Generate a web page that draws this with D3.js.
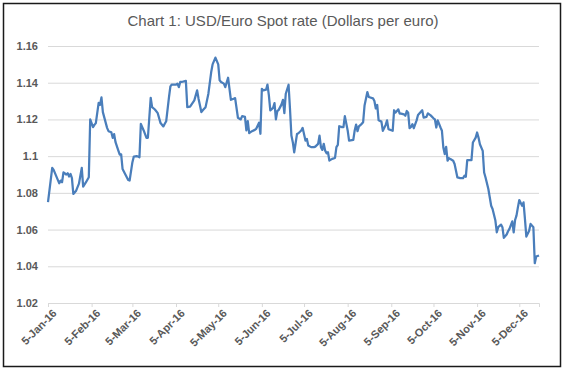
<!DOCTYPE html>
<html lang="en">
<head>
<meta charset="utf-8">
<title>USD/Euro Spot rate</title>
<script src="https://cdn.jsdelivr.net/npm/d3@7"></script>
<style>
body { margin: 0; background: #fff; }
text { font-family: "Liberation Sans", Arial, sans-serif; fill: #595959; }
</style>
</head>
<body>
<script>
// daily points
var dates = ["5-Jan-16","8-Jan-16","9-Jan-16","13-Jan-16","14-Jan-16","15-Jan-16","16-Jan-16","18-Jan-16","19-Jan-16","20-Jan-16",
  "21-Jan-16","22-Jan-16","23-Jan-16","25-Jan-16","27-Jan-16","29-Jan-16","30-Jan-16","1-Feb-16","3-Feb-16","4-Feb-16",
  "6-Feb-16","7-Feb-16","8-Feb-16","10-Feb-16","11-Feb-16","12-Feb-16","13-Feb-16","16-Feb-16","17-Feb-16","19-Feb-16",
  "20-Feb-16","21-Feb-16","22-Feb-16","24-Feb-16","25-Feb-16","26-Feb-16","27-Feb-16","29-Feb-16","2-Mar-16","3-Mar-16",
  "5-Mar-16","6-Mar-16","8-Mar-16","9-Mar-16","10-Mar-16","11-Mar-16","13-Mar-16","15-Mar-16","16-Mar-16","18-Mar-16",
  "19-Mar-16","21-Mar-16","23-Mar-16","25-Mar-16","27-Mar-16","28-Mar-16","29-Mar-16","31-Mar-16","1-Apr-16","2-Apr-16",
  "5-Apr-16","6-Apr-16","7-Apr-16","8-Apr-16","9-Apr-16","12-Apr-16","13-Apr-16","15-Apr-16","18-Apr-16","20-Apr-16",
  "21-Apr-16","23-Apr-16","24-Apr-16","26-Apr-16","28-Apr-16","30-Apr-16","1-May-16","3-May-16","5-May-16","6-May-16",
  "7-May-16","9-May-16","10-May-16","12-May-16","13-May-16","14-May-16","16-May-16","17-May-16","19-May-16","21-May-16",
  "22-May-16","24-May-16","25-May-16","26-May-16","27-May-16","29-May-16","31-May-16","1-Jun-16","3-Jun-16","4-Jun-16",
  "5-Jun-16","6-Jun-16","8-Jun-16","9-Jun-16","10-Jun-16","11-Jun-16","13-Jun-16","14-Jun-16","15-Jun-16","16-Jun-16",
  "17-Jun-16","19-Jun-16","20-Jun-16","21-Jun-16","22-Jun-16","24-Jun-16","25-Jun-16","26-Jun-16","27-Jun-16","28-Jun-16",
  "29-Jun-16","30-Jun-16","1-Jul-16","3-Jul-16","4-Jul-16","6-Jul-16","7-Jul-16","8-Jul-16","10-Jul-16","12-Jul-16",
  "13-Jul-16","15-Jul-16","16-Jul-16","17-Jul-16","18-Jul-16","19-Jul-16","20-Jul-16","21-Jul-16","22-Jul-16","23-Jul-16",
  "25-Jul-16","27-Jul-16","28-Jul-16","29-Jul-16","30-Jul-16","1-Aug-16","2-Aug-16","3-Aug-16","5-Aug-16","6-Aug-16",
  "9-Aug-16","10-Aug-16","11-Aug-16","12-Aug-16","13-Aug-16","15-Aug-16","16-Aug-16","17-Aug-16","19-Aug-16","20-Aug-16",
  "23-Aug-16","24-Aug-16","25-Aug-16","26-Aug-16","27-Aug-16","29-Aug-16","30-Aug-16","1-Sep-16","2-Sep-16","3-Sep-16",
  "5-Sep-16","6-Sep-16","7-Sep-16","8-Sep-16","10-Sep-16","11-Sep-16","12-Sep-16","14-Sep-16","15-Sep-16","16-Sep-16",
  "17-Sep-16","18-Sep-16","19-Sep-16","20-Sep-16","21-Sep-16","23-Sep-16","24-Sep-16","27-Sep-16","28-Sep-16","30-Sep-16",
  "1-Oct-16","3-Oct-16","5-Oct-16","6-Oct-16","7-Oct-16","8-Oct-16","10-Oct-16","11-Oct-16","12-Oct-16","13-Oct-16",
  "14-Oct-16","15-Oct-16","16-Oct-16","17-Oct-16","19-Oct-16","20-Oct-16","22-Oct-16","24-Oct-16","26-Oct-16","27-Oct-16",
  "28-Oct-16","29-Oct-16","30-Oct-16","1-Nov-16","2-Nov-16","4-Nov-16","5-Nov-16","6-Nov-16","7-Nov-16","9-Nov-16",
  "10-Nov-16","11-Nov-16","13-Nov-16","15-Nov-16","16-Nov-16","18-Nov-16","19-Nov-16","20-Nov-16","22-Nov-16","23-Nov-16",
  "24-Nov-16","26-Nov-16","27-Nov-16","28-Nov-16","30-Nov-16","1-Dec-16","2-Dec-16","3-Dec-16","4-Dec-16","5-Dec-16",
  "7-Dec-16","8-Dec-16","9-Dec-16","10-Dec-16","12-Dec-16","13-Dec-16","15-Dec-16","16-Dec-16","17-Dec-16","19-Dec-16"];

var rates = [1.075,1.0936,1.0925,1.0852,1.0867,1.0858,1.0912,1.090,1.0907,1.0889,
  1.0903,1.088,1.0794,1.0812,1.085,1.0936,1.0834,1.0858,1.0885,1.120,
  1.1158,1.117,1.118,1.129,1.128,1.132,1.124,1.1154,1.1136,1.113,
  1.110,1.112,1.1076,1.103,1.1008,1.101,1.093,1.090,1.087,1.0867,
  1.0967,1.0998,1.100,1.0998,1.0994,1.1176,1.114,1.110,1.110,1.1318,
  1.1267,1.1254,1.1234,1.118,1.1162,1.1176,1.119,1.1322,1.138,1.139,
  1.1389,1.1395,1.1376,1.1404,1.1404,1.141,1.1267,1.127,1.1304,1.1358,
  1.1313,1.124,1.125,1.1267,1.134,1.1458,1.150,1.1537,1.150,1.1413,
  1.1404,1.1395,1.1376,1.1427,1.1367,1.1307,1.1313,1.1316,1.1209,1.120,
  1.1218,1.1214,1.114,1.1191,1.1125,1.1136,1.1143,1.1149,1.1182,1.1122,
  1.1367,1.1358,1.1362,1.139,1.1331,1.1249,1.1263,1.1289,1.120,1.1245,
  1.1252,1.1282,1.1307,1.1234,1.134,1.1389,1.1258,1.1112,1.1076,1.1021,
  1.107,1.1121,1.1125,1.114,1.1154,1.1085,1.1094,1.1058,1.1049,1.1049,
  1.1052,1.1067,1.1112,1.1049,1.1034,1.1067,1.103,1.1016,1.1021,1.0976,
  1.0985,1.099,1.1049,1.1061,1.1163,1.1158,1.1158,1.1218,1.114,1.1085,
  1.1089,1.114,1.1172,1.1136,1.1162,1.1176,1.1185,1.1276,1.1349,1.1322,
  1.1315,1.130,1.126,1.1279,1.1195,1.1188,1.1138,1.117,1.1195,1.1147,
  1.1141,1.1138,1.125,1.1237,1.1255,1.1232,1.1232,1.1228,1.122,1.1246,
  1.1237,1.1152,1.1159,1.1174,1.1152,1.1195,1.1224,1.125,1.121,1.1214,
  1.1233,1.1222,1.1206,1.12,1.1156,1.1195,1.1156,1.1138,1.1047,1.1011,
  1.1051,1.0975,1.0989,1.0984,1.0975,1.0957,1.0884,1.088,1.088,1.0893,
  1.0888,1.0978,1.0978,1.0978,1.1074,1.1101,1.1129,1.1101,1.1065,1.1029,
  1.0911,1.0884,1.0821,1.073,1.0712,1.0649,1.0585,1.0613,1.0627,1.0613,
  1.0555,1.0573,1.0591,1.0604,1.0645,1.0585,1.0652,1.0676,1.0721,1.0761,
  1.073,1.0748,1.0658,1.0562,1.0594,1.0631,1.0613,1.0417,1.0453,1.0459];

var xTickLabels = ["5-Jan-16","5-Feb-16","5-Mar-16","5-Apr-16","5-May-16","5-Jun-16",
  "5-Jul-16","5-Aug-16","5-Sep-16","5-Oct-16","5-Nov-16","5-Dec-16"];
var yTicks = [1.02, 1.04, 1.06, 1.08, 1.1, 1.12, 1.14, 1.16];

var w = 564, h = 373;
var plotLeft = 48, plotRight = 539, plotTop = 46, plotBottom = 303;

var parse = d3.timeParse("%d-%b-%y");
var data = dates.map(function(d, i) { return { date: parse(d), rate: rates[i] }; });

var svg = d3.select("body").append("svg")
  .attr("width", w)
  .attr("height", h);

svg.append("rect")
  .attr("x", 3.5).attr("y", 3.5)
  .attr("width", 557).attr("height", 363)
  .attr("fill", "#fff")
  .attr("stroke", "#1a1a1a")
  .attr("stroke-width", 1.5);

var x = d3.scaleTime()
  .domain(d3.extent(data, function(d) { return d.date; }))
  .range([plotLeft, plotRight]);

var y = d3.scaleLinear()
  .domain([1.02, 1.16])
  .range([plotBottom, plotTop]);

svg.append("text")
  .attr("x", 283)
  .attr("y", 26)
  .attr("text-anchor", "middle")
  .attr("font-size", "15px")
  .text("Chart 1: USD/Euro Spot rate (Dollars per euro)");

// gridlines + y labels
var yAxis = svg.append("g")
  .attr("transform", "translate(" + plotLeft + ",0)")
  .call(d3.axisLeft(y).tickValues(yTicks).tickSize(-(plotRight - plotLeft)).tickPadding(10)
    .tickFormat(function(d) { return String(d); }));
yAxis.select(".domain").remove();
yAxis.selectAll("line").attr("stroke", "#d9d9d9");
yAxis.selectAll("text")
  .attr("font-size", "11px")
  .attr("font-weight", "bold")
  .attr("fill", "#595959");

// bottom axis
var xAxis = svg.append("g")
  .attr("transform", "translate(0," + plotBottom + ")")
  .call(d3.axisBottom(x).tickValues(xTickLabels.map(parse)).tickSize(4)
    .tickFormat(d3.timeFormat("%-d-%b-%y")));
xAxis.select(".domain").attr("stroke", "#d9d9d9");
xAxis.selectAll("line").attr("stroke", "#d9d9d9");
xAxis.selectAll("text")
  .attr("font-size", "11px")
  .attr("font-weight", "bold")
  .attr("fill", "#595959")
  .attr("text-anchor", "end")
  .attr("dx", 0)
  .attr("dy", 0)
  .attr("transform", "translate(4,6) rotate(-45)");

var line = d3.line()
  .x(function(d) { return x(d.date); })
  .y(function(d) { return y(d.rate); });

svg.append("path")
  .datum(data)
  .attr("d", line)
  .attr("fill", "none")
  .attr("stroke", "#4a7ebb")
  .attr("stroke-width", 2.25)
  .attr("stroke-linejoin", "round");
</script>
</body>
</html>
